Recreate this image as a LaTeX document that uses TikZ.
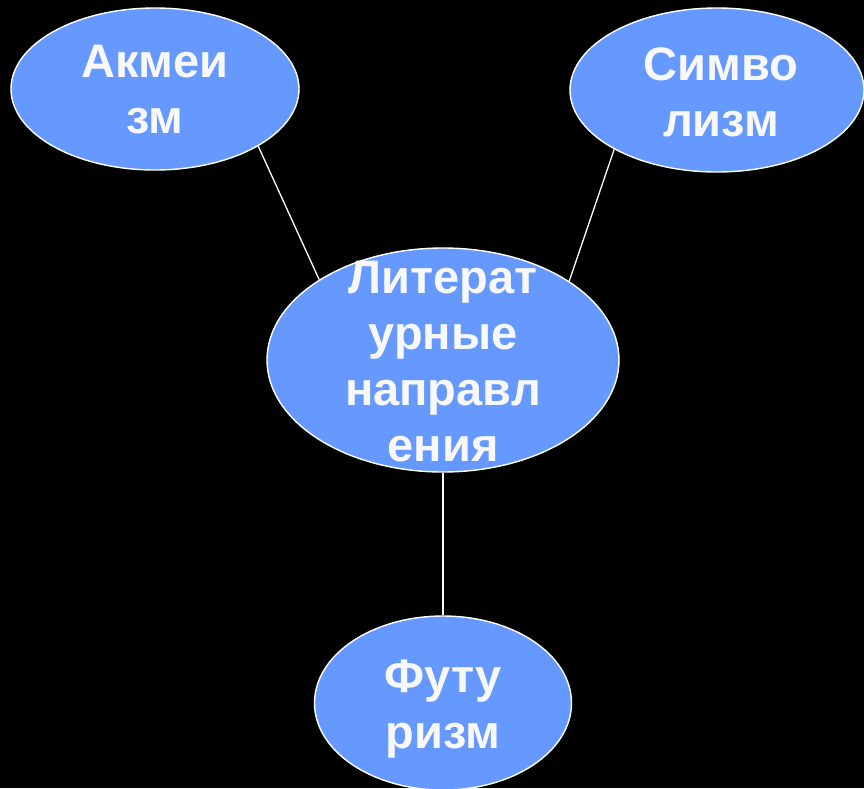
\documentclass[tikz,border=0pt]{standalone}
\usepackage{fontspec}
\setmainfont{Liberation Sans}
\usetikzlibrary{shapes.geometric}
\definecolor{ovalblue}{HTML}{6699FF}
\definecolor{txtwhite}{HTML}{F8F8F8}
\tikzset{
  oval/.style={ellipse, draw=white, line width=1.4pt, fill=ovalblue, inner sep=0pt},
  lbl/.style={text=txtwhite, font=\bfseries\fontsize{47}{56}\selectfont, align=center, inner sep=0pt},
  link/.style={draw=white, line width=1.3pt}
}
\begin{document}
\begin{tikzpicture}[x=1pt,y=-1pt]
\fill[black] (0,0) rectangle (864,788);
\useasboundingbox (0,0) rectangle (864,788);
\clip (0,0) rectangle (864,788);
\node[oval, minimum width=288pt, minimum height=162pt] (akm) at (155,89) {};
\node[oval, minimum width=294pt, minimum height=164pt] (sym) at (717,90) {};
\node[oval, minimum width=352pt, minimum height=224pt] (lit) at (443,360) {};
\node[oval, minimum width=257pt, minimum height=174pt] (fut) at (443,703) {};
\draw[link] (akm.-29.4) -- (lit.147.4);
\draw[link] (sym.-150.4) -- (lit.32.8);
\draw[link] (lit.south) -- (fut.north);
\node[lbl] (takm) at ([yshift=-1pt]akm.center) {Акмеи\\зм};
\node[lbl] (tsym) at ([xshift=4pt,yshift=-2pt]sym.center) {Симво\\лизм};
\node[lbl] (tlit) at ([yshift=-2pt]lit.center) {Литерат\\урные\\направл\\ения};
\node[lbl] (tfut) at ([yshift=-6pt]fut.center) {Футу\\ризм};
\end{tikzpicture}
\end{document}
